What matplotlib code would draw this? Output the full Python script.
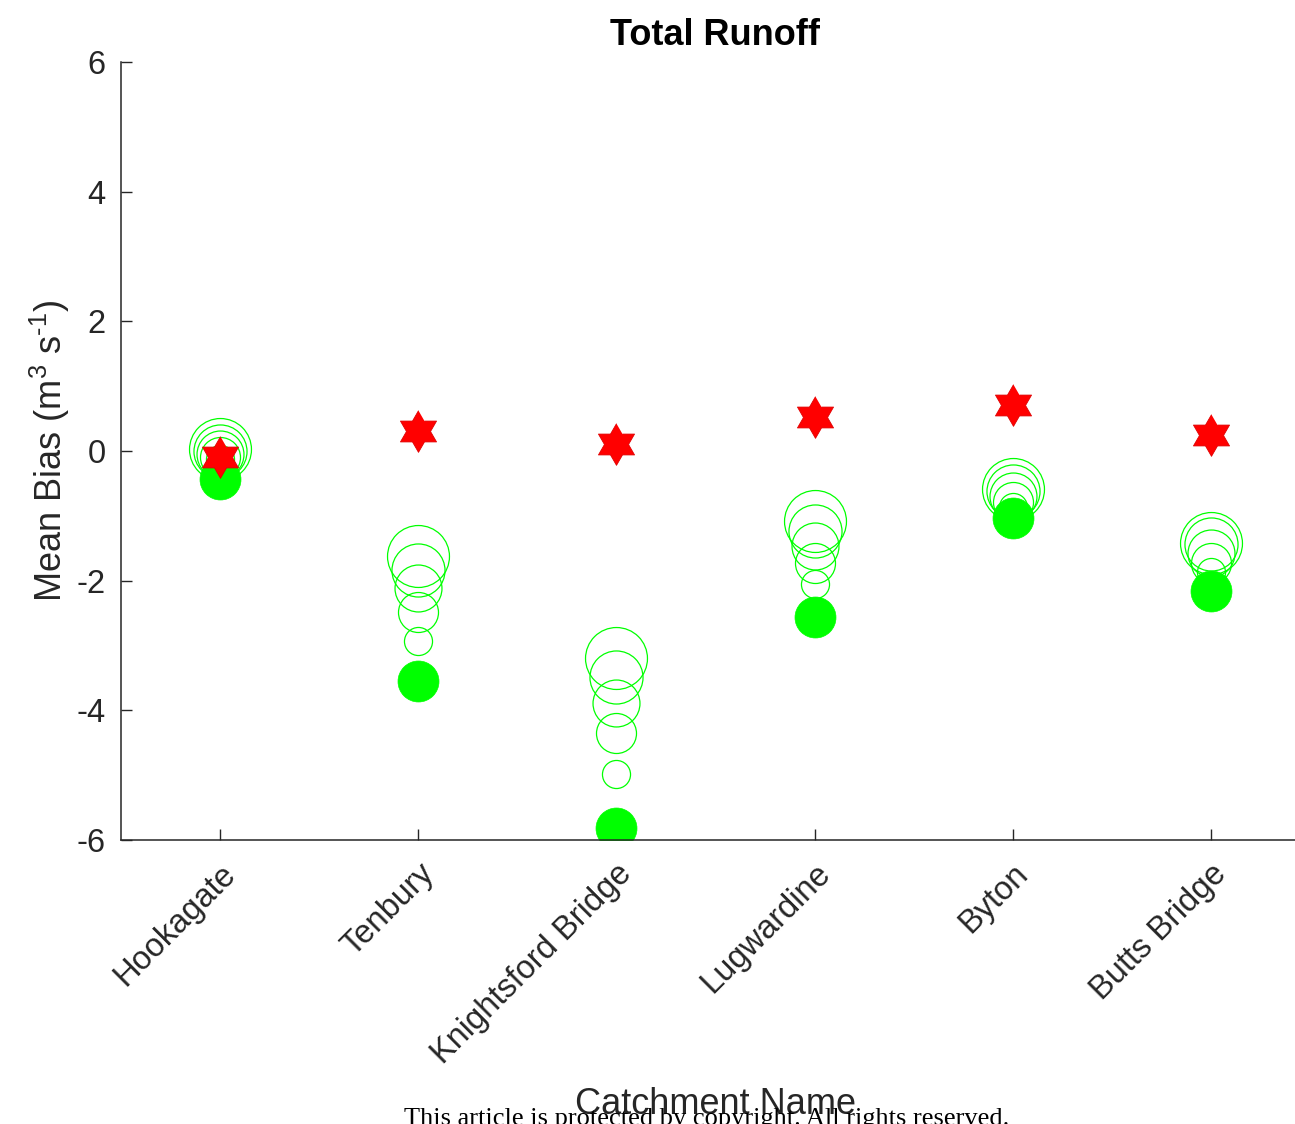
import numpy as np
import matplotlib
matplotlib.use("Agg")
import matplotlib.pyplot as plt
from matplotlib.transforms import ScaledTranslation

plt.rcParams['font.family'] = ['Liberation Sans', 'DejaVu Sans']
plt.rcParams['mathtext.fontset'] = 'custom'
plt.rcParams['mathtext.rm'] = 'Liberation Sans'
plt.rcParams['mathtext.it'] = 'Liberation Sans:italic'

catchments = ["Hookagate", "Tenbury", "Knightsford Bridge", "Lugwardine", "Byton", "Butts Bridge"]

# Mean bias of the reference run (red hexagrams)
star_bias = [-0.09, 0.31, 0.11, 0.52, 0.71, 0.25]
# Mean bias of the base run (filled green circles)
filled_bias = [-0.43, -3.55, -5.82, -2.56, -1.03, -2.16]
# Mean bias of the five sensitivity runs (open circles, largest to smallest)
open_bias_1 = [0.03, -1.62, -3.19, -1.08, -0.59, -1.42]
open_bias_2 = [0.00, -1.83, -3.48, -1.24, -0.62, -1.44]
open_bias_3 = [-0.04, -2.12, -3.88, -1.47, -0.70, -1.58]
open_bias_4 = [-0.09, -2.48, -4.35, -1.73, -0.79, -1.73]
open_bias_5 = [-0.12, -2.93, -4.98, -2.05, -0.86, -1.87]

yticks = [-6, -4, -2, 0, 2, 4, 6]

DPI = 100
W, H = 1295, 1124
fig = plt.figure(figsize=(W / DPI, H / DPI), dpi=DPI)
ax = fig.add_axes([121 / W, (H - 840) / H, (1310 - 121) / W, 778 / H])

x = np.arange(1, len(catchments) + 1)
green = '#00ff00'

# open circles, drawn from largest marker to smallest
open_series = [open_bias_1, open_bias_2, open_bias_3, open_bias_4, open_bias_5]
open_sizes = [44.6, 38.2, 33.8, 28.8, 20.2]
for vals, ms in zip(open_series, open_sizes):
    ax.plot(x, vals, linestyle='none', marker='o', markersize=ms,
            markerfacecolor='none', markeredgecolor=green, markeredgewidth=0.9)

ax.plot(x, filled_bias, linestyle='none', marker='o', markersize=29.5,
        markerfacecolor=green, markeredgecolor=green, markeredgewidth=0.5)

# six-pointed star marker
ang = np.deg2rad(90 + 30 * np.arange(12))
rad = np.where(np.arange(12) % 2 == 0, 1.0, 1 / np.sqrt(3))
hexagram = list(zip(rad * np.cos(ang), rad * np.sin(ang)))
ax.plot(x, star_bias, linestyle='none', marker=hexagram, markersize=30,
        markerfacecolor='#ff0000', markeredgecolor='#e00000', markeredgewidth=0.6)

ax.set_xlim(0.5, 6.5)
ax.set_ylim(-6, 6)
ax.set_yticks(yticks)
ax.set_yticklabels([str(t) for t in yticks])
ax.set_xticks(x)
ax.set_xticklabels(catchments, rotation=45, ha='right', va='top',
                   rotation_mode='anchor')
shift = ScaledTranslation(4 / 72, 0, fig.dpi_scale_trans)
for lab in ax.get_xticklabels():
    lab.set_transform(lab.get_transform() + shift)

axis_col = '#262626'
for side in ['top', 'right']:
    ax.spines[side].set_visible(False)
for side in ['left', 'bottom']:
    ax.spines[side].set_color(axis_col)
    ax.spines[side].set_linewidth(1.1)
ax.tick_params(axis='both', direction='in', length=8, width=1.0,
               colors=axis_col, labelsize=23.5)
ax.tick_params(axis='y', pad=11)
ax.tick_params(axis='x', pad=13)

ax.set_title('Total Runoff', fontsize=26, fontweight='bold', pad=12)
ax.set_ylabel(r'Mean Bias (m$^{3}$ s$^{\text{-}1}$)', fontsize=26,
              color=axis_col, labelpad=3)
ax.set_xlabel('Catchment Name', fontsize=26, color=axis_col)
ax.xaxis.set_label_coords(0.5, -0.34)
ax.xaxis.label.set_va('center')

fig.text(707 / W, (H - 1119) / H,
         'This article is protected by copyright. All rights reserved.',
         family=['Liberation Serif', 'DejaVu Serif'], fontsize=19,
         color='black', ha='center', va='center')

fig.savefig('out.png', dpi=DPI)
